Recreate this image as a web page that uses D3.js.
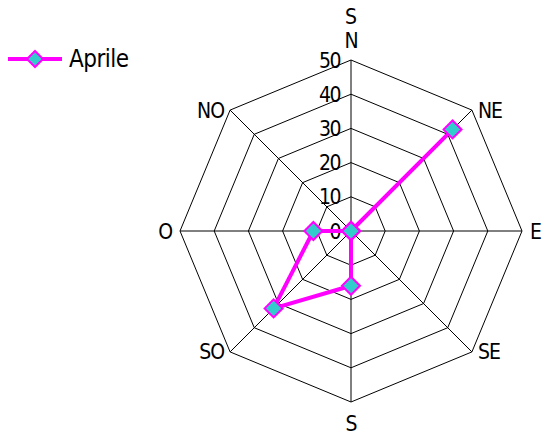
<!DOCTYPE html>
<html>
<head>
<meta charset="utf-8">
<script src="https://cdn.jsdelivr.net/npm/d3@7"></script>
<style>
  body { margin: 0; background: #fff; }
  text { font-family: "DejaVu Sans Condensed", "DejaVu Sans", sans-serif; font-stretch: condensed; fill: #000; }
</style>
</head>
<body>
<script>
// layout
const WIDTH = 548, HEIGHT = 435;
const cx = 351, cy = 231, R = 171;

// data
const directions = ["N", "NE", "E", "SE", "S", "SO", "O", "NO"];
const aprile = [0, 42, 0, 0, 16, 32, 11, 0];
const ticks = [0, 10, 20, 30, 40, 50];
const seriesName = "Aprile";
const title = "S";

let svg = d3.select("body").append("svg")
    .attr("width", WIDTH)
    .attr("height", HEIGHT);

let rScale = d3.scaleLinear().domain([0, 50]).range([0, R]);
let angle = d3.scalePoint().domain(directions.concat(["_"])).range([0, 2 * Math.PI]);

function pt(dir, v) {
    let a = angle(dir) - Math.PI / 2;
    return [cx + rScale(v) * Math.cos(a), cy + rScale(v) * Math.sin(a)];
}

let g = svg.append("g");

// rings
ticks.filter(t => t > 0).forEach(t => {
    g.append("polygon")
        .attr("points", directions.map(d => pt(d, t).join(",")).join(" "))
        .attr("fill", "none")
        .attr("stroke", "#000")
        .attr("stroke-width", 1);
});

// spokes
directions.forEach(d => {
    let p = pt(d, 50);
    g.append("line")
        .attr("x1", cx).attr("y1", cy)
        .attr("x2", p[0]).attr("y2", p[1])
        .attr("stroke", "#000")
        .attr("stroke-width", 1);
});

// tick labels
ticks.forEach(t => {
    g.append("text")
        .attr("x", cx - 11)
        .attr("y", cy - rScale(t))
        .attr("dy", "0.36em")
        .attr("text-anchor", "end")
        .attr("font-size", 21)
        .attr("letter-spacing", "-1.5px")
        .text(t);
});

// direction labels
const labelPos = {
    N:  {dx: 0, dy: -20, anchor: "middle"},
    NE: {dx: 6, dy: 0, anchor: "start"},
    E:  {dx: 8, dy: 0, anchor: "start"},
    SE: {dx: 6, dy: 0, anchor: "start"},
    S:  {dx: 0, dy: 21, anchor: "middle"},
    SO: {dx: -6, dy: 0, anchor: "end"},
    O:  {dx: -8, dy: 0, anchor: "end"},
    NO: {dx: -6, dy: 0, anchor: "end"}
};
directions.forEach(d => {
    let p = pt(d, 50), lp = labelPos[d];
    g.append("text")
        .attr("x", p[0] + lp.dx)
        .attr("y", p[1] + lp.dy)
        .attr("dy", "0.36em")
        .attr("text-anchor", lp.anchor)
        .attr("font-size", 21)
        .attr("letter-spacing", "-1px")
        .text(d);
});

// title
svg.append("text")
    .attr("x", cx)
    .attr("y", 16)
    .attr("dy", "0.36em")
    .attr("text-anchor", "middle")
    .attr("font-size", 21)
    .text(title);

// series
let pts = directions.map((d, i) => pt(d, aprile[i]));
g.append("path")
    .attr("d", d3.line().curve(d3.curveLinearClosed)(pts))
    .attr("fill", "none")
    .attr("stroke", "#ff00ff")
    .attr("stroke-width", 4)
    .attr("stroke-linejoin", "round");

const diamond = "M0,-9L9,0L0,9L-9,0Z";
g.selectAll(".marker")
    .data(pts)
    .enter().append("path")
        .attr("class", "marker")
        .attr("transform", d => "translate(" + d[0] + "," + d[1] + ")")
        .attr("d", diamond)
        .attr("fill", "#33cccc")
        .attr("stroke", "#ff00ff")
        .attr("stroke-width", 2);

// legend
let legend = svg.append("g");
legend.append("line")
    .attr("x1", 8).attr("y1", 59)
    .attr("x2", 62).attr("y2", 59)
    .attr("stroke", "#ff00ff")
    .attr("stroke-width", 4);
legend.append("path")
    .attr("transform", "translate(35,59)")
    .attr("d", "M0,-8L8,0L0,8L-8,0Z")
    .attr("fill", "#33cccc")
    .attr("stroke", "#ff00ff")
    .attr("stroke-width", 2);
legend.append("text")
    .attr("x", 69)
    .attr("y", 58)
    .attr("dy", "0.36em")
    .attr("font-size", 24)
    .attr("letter-spacing", "-0.5px")
    .text(seriesName);
</script>
</body>
</html>
